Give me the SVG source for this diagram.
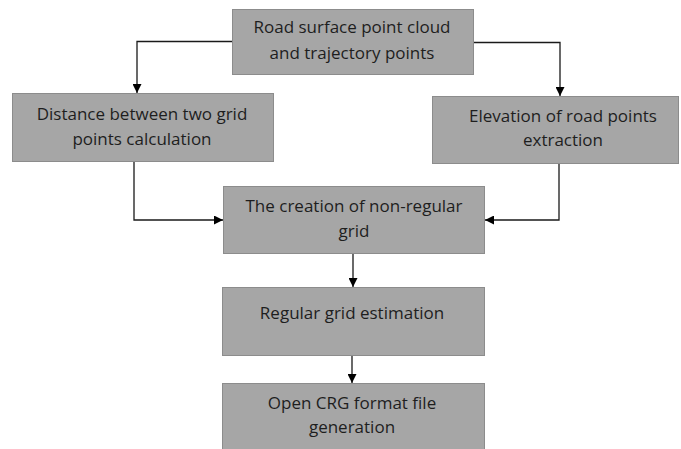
<svg xmlns="http://www.w3.org/2000/svg" width="681" height="449" viewBox="0 0 681 449">
<style>
.box{fill:#a6a6a6;stroke:#8c8c8c;stroke-width:1}
.t{font-family:"Open Sans","Liberation Sans",sans-serif;font-size:17px;fill:#1e1e1e;text-anchor:middle}
.c{fill:none;stroke:#1a1a1a;stroke-width:1.3}
</style>
<defs>
<marker id="ah" viewBox="0 0 10 10" refX="10" refY="5" markerWidth="9" markerHeight="9" markerUnits="userSpaceOnUse" orient="auto">
<path d="M0,0 L10,5 L0,10 z" fill="#000"/>
</marker>
</defs>
<rect width="681" height="449" fill="#fff"/>
<g id="connectors">
<path class="c" d="M232,41.5 H137 V93" marker-end="url(#ah)"/>
<path class="c" d="M474,42.5 H560 V96" marker-end="url(#ah)"/>
<path class="c" d="M134,162 V220 H223" marker-end="url(#ah)"/>
<path class="c" d="M559,164 V220 H485" marker-end="url(#ah)"/>
<path class="c" d="M353,254 V287" marker-end="url(#ah)"/>
<path class="c" d="M352,356 V383" marker-end="url(#ah)"/>
</g>
<g id="n1">
<rect class="box" x="232.5" y="9.5" width="241" height="65"/>
<text class="t" x="352" y="33">Road surface point cloud</text>
<text class="t" x="352" y="59">and trajectory points</text>
</g>
<g id="n2">
<rect class="box" x="12.5" y="93.5" width="261" height="68"/>
<text class="t" x="142" y="120">Distance between two grid</text>
<text class="t" x="142" y="145">points calculation</text>
</g>
<g id="n3">
<rect class="box" x="432.5" y="96.5" width="246" height="67"/>
<text class="t" x="563" y="122">Elevation of road points</text>
<text class="t" x="563" y="146">extraction</text>
</g>
<g id="n4">
<rect class="box" x="223.5" y="186.5" width="261" height="67"/>
<text class="t" x="354" y="212">The creation of non-regular</text>
<text class="t" x="354" y="237">grid</text>
</g>
<g id="n5">
<rect class="box" x="222.5" y="287.5" width="262" height="68"/>
<text class="t" x="352" y="319">Regular grid estimation</text>
</g>
<g id="n6">
<rect class="box" x="222.5" y="383.5" width="262" height="66"/>
<text class="t" x="352" y="409">Open CRG format file</text>
<text class="t" x="352" y="433">generation</text>
</g>
</svg>
